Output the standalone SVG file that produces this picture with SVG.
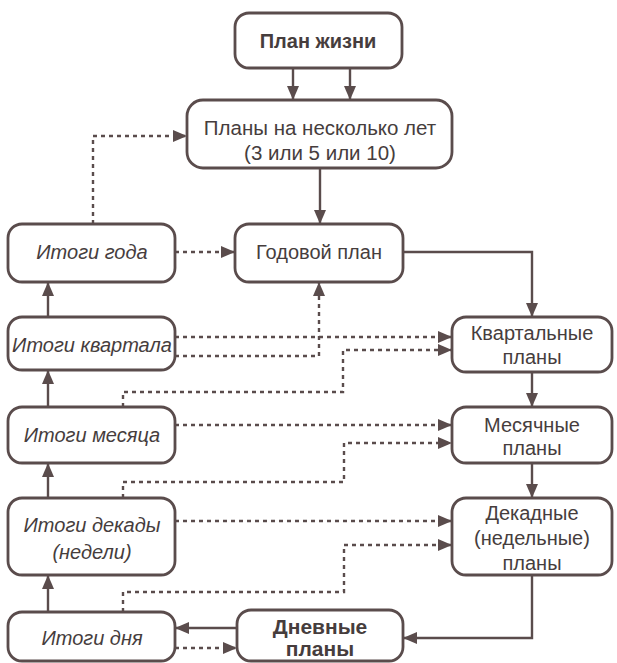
<svg xmlns="http://www.w3.org/2000/svg" width="617" height="663" viewBox="0 0 617 663">
<style>
.box{fill:#fff;stroke:#5a4c4c;stroke-width:2.8}
.t{font-family:"Liberation Sans",Arial,sans-serif;font-size:20px;fill:#463d3d;text-anchor:middle}
.b{font-weight:bold}
.i{font-style:italic}
.c{fill:none;stroke:#5a4c4c;stroke-width:2.4}
.d{stroke-dasharray:4 4}
</style>
<defs>
<marker id="ah" viewBox="0 0 14 12" refX="14" refY="6" markerWidth="14" markerHeight="12" orient="auto" markerUnits="userSpaceOnUse">
<path d="M0,0 L14,6 L0,12 z" fill="#5a4c4c"/>
</marker>
</defs>
<rect width="617" height="663" fill="#fff"/>
<g id="connectors">
<path class="c" d="M293,68 V100" marker-end="url(#ah)"/>
<path class="c" d="M350,68 V100" marker-end="url(#ah)"/>
<path class="c" d="M320,168 V224" marker-end="url(#ah)"/>
<path class="c d" d="M93,224 V136 H187" marker-end="url(#ah)"/>
<path class="c d" d="M175,252 H235" marker-end="url(#ah)"/>
<path class="c" d="M403,252 H532 V317" marker-end="url(#ah)"/>
<path class="c" d="M48,317 V282" marker-end="url(#ah)"/>
<path class="c" d="M48,407 V370" marker-end="url(#ah)"/>
<path class="c" d="M48,498 V463" marker-end="url(#ah)"/>
<path class="c" d="M48,612 V575" marker-end="url(#ah)"/>
<path class="c" d="M532,372 V407" marker-end="url(#ah)"/>
<path class="c" d="M532,463 V498" marker-end="url(#ah)"/>
<path class="c" d="M532,575 V638 H403" marker-end="url(#ah)"/>
<path class="c" d="M237,628 H175" marker-end="url(#ah)"/>
<path class="c d" d="M175,648 H237" marker-end="url(#ah)"/>
<path class="c d" d="M175,337 H452" marker-end="url(#ah)"/>
<path class="c d" d="M175,356 H319 V282" marker-end="url(#ah)"/>
<path class="c d" d="M123,407 V392 H343 V350 H452" marker-end="url(#ah)"/>
<path class="c d" d="M175,425 H452" marker-end="url(#ah)"/>
<path class="c d" d="M123,498 V482 H344 V443 H452" marker-end="url(#ah)"/>
<path class="c d" d="M175,521 H452" marker-end="url(#ah)"/>
<path class="c d" d="M123,612 V592 H344 V545 H452" marker-end="url(#ah)"/>
</g>
<g id="plan-zhizni"><rect class="box" x="235" y="13" width="167" height="55" rx="14"/><text class="t b" x="318" y="48">План жизни</text></g>
<g id="plany-neskolko-let"><rect class="box" x="187" y="100" width="265" height="68" rx="16"/><text class="t" x="320" y="135" style="font-size:20.5px">Планы на несколько лет</text><text class="t" x="320" y="160" style="font-size:20.5px">(3 или 5 или 10)</text></g>
<g id="godovoy-plan"><rect class="box" x="235" y="224" width="168" height="58" rx="14"/><text class="t" x="319" y="259">Годовой план</text></g>
<g id="itogi-goda"><rect class="box" x="8" y="224" width="167" height="58" rx="14"/><text class="t i" x="92" y="259">Итоги года</text></g>
<g id="itogi-kvartala"><rect class="box" x="8" y="317" width="167" height="53" rx="14"/><text class="t i" x="92" y="352">Итоги квартала</text></g>
<g id="itogi-mesyatsa"><rect class="box" x="8" y="407" width="167" height="56" rx="14"/><text class="t i" x="92" y="442">Итоги месяца</text></g>
<g id="itogi-dekady"><rect class="box" x="8" y="498" width="167" height="77" rx="14"/><text class="t i" x="92" y="532">Итоги декады</text><text class="t i" x="92" y="559">(недели)</text></g>
<g id="itogi-dnya"><rect class="box" x="8" y="612" width="167" height="49" rx="14"/><text class="t i" x="92" y="645">Итоги дня</text></g>
<g id="kvartalnye"><rect class="box" x="452" y="317" width="160" height="55" rx="14"/><text class="t" x="532" y="340">Квартальные</text><text class="t" x="532" y="364">планы</text></g>
<g id="mesyachnye"><rect class="box" x="452" y="407" width="160" height="56" rx="14"/><text class="t" x="532" y="432">Месячные</text><text class="t" x="532" y="455">планы</text></g>
<g id="dekadnye"><rect class="box" x="452" y="498" width="160" height="77" rx="14"/><text class="t" x="532" y="520">Декадные</text><text class="t" x="532" y="545">(недельные)</text><text class="t" x="532" y="570">планы</text></g>
<g id="dnevnye"><rect class="box" x="237" y="610" width="166" height="51" rx="14"/><text class="t b" x="320" y="634" style="font-size:21px">Дневные</text><text class="t b" x="320" y="656" style="font-size:21px">планы</text></g>
</svg>
